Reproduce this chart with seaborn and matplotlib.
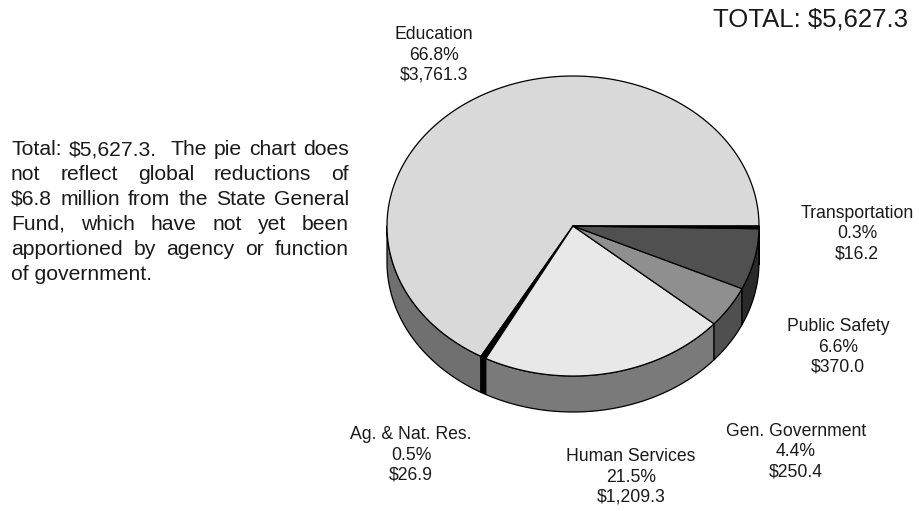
import numpy as np
import matplotlib
matplotlib.use('Agg')
import matplotlib.pyplot as plt
import seaborn as sns
from matplotlib.patches import Polygon

# Data (millions of dollars), counter-clockwise from 3 o'clock
sectors = ['Education', 'Ag. & Nat. Res.', 'Human Services',
           'Gen. Government', 'Public Safety', 'Transportation']
amounts = [3761.3, 26.9, 1209.3, 250.4, 370.0, 16.2]
percents = [66.8, 0.5, 21.5, 4.4, 6.6, 0.3]
total = 5627.3

note_lines = [
    'Total: $5,627.3.  The pie chart does',
    'not reflect global reductions of',
    '$6.8 million from the State General',
    'Fund, which have not yet been',
    'apportioned by agency or function',
    'of government.',
]

top_colors = ['#d9d9d9', '#000000', '#e8e8e8', '#8f8f8f', '#505050', '#000000']
side_colors = ['#707070', '#000000', '#7a7a7a', '#4f4f4f', '#2a2a2a', '#000000']

# label block centres (pixels)
label_pos = {
    'Education': (434, 55),
    'Ag. & Nat. Res.': (411, 455),
    'Human Services': (631, 477),
    'Gen. Government': (796, 452),
    'Public Safety': (838, 347),
    'Transportation': (857, 234),
}

sns.set_theme(style='white')
plt.rcParams['font.family'] = ['Liberation Sans', 'DejaVu Sans']
txt_color = '#1a1a1a'

fig = plt.figure(figsize=(9.19, 5.11), dpi=100)
ax = fig.add_axes([0, 0, 1, 1])
ax.set_xlim(0, 919)
ax.set_ylim(511, 0)
ax.axis('off')

# pie geometry in pixels
cx, cy, rx, ry, depth = 573, 226, 186, 150, 36

fracs = np.array(amounts) / sum(amounts)
edges = np.concatenate([[0], np.cumsum(fracs) * 360])


def arc(a0, a1):
    n = max(int(abs(a1 - a0) * 2), 2)
    t = np.radians(np.linspace(a0, a1, n))
    return cx + rx * np.cos(t), cy - ry * np.sin(t)


# side walls (only the front half is visible)
for i in range(len(sectors)):
    s0 = max(edges[i], 180)
    s1 = min(edges[i + 1], 360)
    if s1 <= s0:
        continue
    xs, ys = arc(s0, s1)
    pts = np.column_stack([np.concatenate([xs, xs[::-1]]),
                           np.concatenate([ys, ys[::-1] + depth])])
    ax.add_patch(Polygon(pts, closed=True, facecolor=side_colors[i],
                         edgecolor='black', lw=0.9, joinstyle='round'))

# top faces
for i in range(len(sectors)):
    xs, ys = arc(edges[i], edges[i + 1])
    pts = np.column_stack([np.concatenate([[cx], xs]),
                           np.concatenate([[cy], ys])])
    ax.add_patch(Polygon(pts, closed=True, facecolor=top_colors[i],
                         edgecolor='black', lw=0.9, joinstyle='round'))

# labels
for name, pct, amt in zip(sectors, percents, amounts):
    x, y = label_pos[name]
    ax.text(x, y, f'{name}\n{pct:.1f}%\n${amt:,.1f}', ha='center', va='center',
            fontsize=12.7, color=txt_color, linespacing=1.26)

ax.text(908, 20, f'TOTAL: ${total:,.1f}', ha='right', va='center',
        fontsize=18.5, color=txt_color)

# justified note on the left
renderer = fig.canvas.get_renderer()
note_size = 15.2
x0, x1, y0, step = 11, 349, 155, 25
for k, line in enumerate(note_lines):
    y = y0 + k * step
    if k == len(note_lines) - 1:
        ax.text(x0, y, line, ha='left', va='baseline', fontsize=note_size, color=txt_color)
        continue
    words = line.split(' ')
    objs = [ax.text(0, y, w, ha='left', va='baseline', fontsize=note_size, color=txt_color)
            for w in words]
    widths = [o.get_window_extent(renderer).width if w else 0 for o, w in zip(objs, words)]
    gap = (x1 - x0 - sum(widths)) / (len(words) - 1)
    xpos = x0
    for o, w in zip(objs, widths):
        o.set_x(xpos)
        xpos += w + gap

fig.savefig('out.png', dpi=100)
